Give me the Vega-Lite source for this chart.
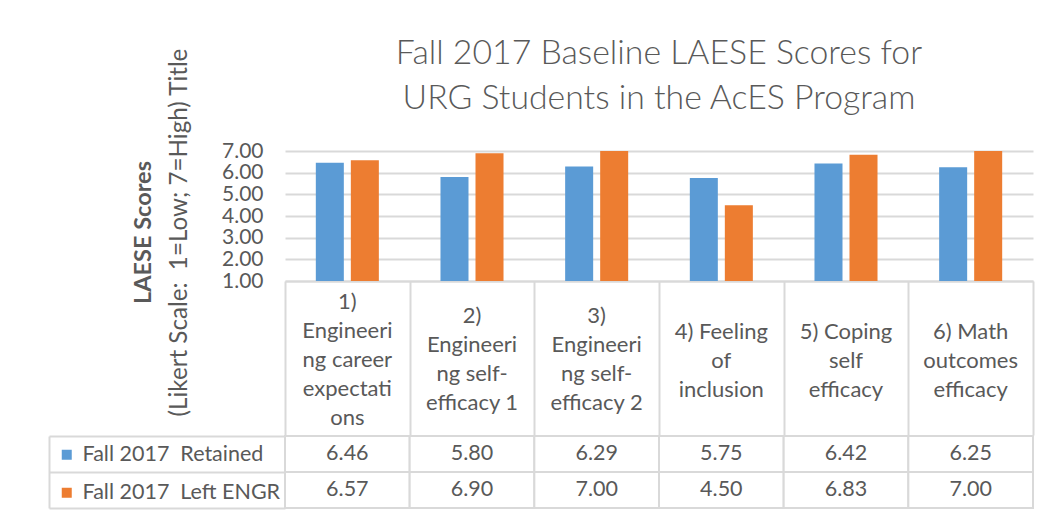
{
  "$schema": "https://vega.github.io/schema/vega-lite/v6.json",
  "background": "white",
  "padding": {"left": 48, "top": 36, "right": 12, "bottom": 8},
  "autosize": {"type": "pad"},
  "config": {
    "font": "Lato",
    "view": {"stroke": null},
    "legend": {
      "orient": "none",
      "legendX": -229,
      "legendY": 293,
      "title": null,
      "symbolType": "square",
      "symbolSize": 100,
      "symbolStrokeWidth": 0,
      "labelFontSize": 21.5,
      "labelColor": "#595959",
      "labelOffset": 5,
      "rowPadding": 15,
      "labelLimit": 0
    }
  },
  "datasets": {
    "scores": [
      {"category": "1)|Engineeri|ng career|expectati|ons", "series": "Fall 2017\u00a0 Retained", "value": 6.46},
      {"category": "2)|Engineeri|ng self-|efficacy 1", "series": "Fall 2017\u00a0 Retained", "value": 5.80},
      {"category": "3)|Engineeri|ng self-|efficacy 2", "series": "Fall 2017\u00a0 Retained", "value": 6.29},
      {"category": "4) Feeling|of|inclusion", "series": "Fall 2017\u00a0 Retained", "value": 5.75},
      {"category": "5) Coping|self|efficacy", "series": "Fall 2017\u00a0 Retained", "value": 6.42},
      {"category": "6) Math|outcomes|efficacy", "series": "Fall 2017\u00a0 Retained", "value": 6.25},
      {"category": "1)|Engineeri|ng career|expectati|ons", "series": "Fall 2017\u00a0 Left ENGR", "value": 6.57},
      {"category": "2)|Engineeri|ng self-|efficacy 1", "series": "Fall 2017\u00a0 Left ENGR", "value": 6.90},
      {"category": "3)|Engineeri|ng self-|efficacy 2", "series": "Fall 2017\u00a0 Left ENGR", "value": 7.00},
      {"category": "4) Feeling|of|inclusion", "series": "Fall 2017\u00a0 Left ENGR", "value": 4.50},
      {"category": "5) Coping|self|efficacy", "series": "Fall 2017\u00a0 Left ENGR", "value": 6.83},
      {"category": "6) Math|outcomes|efficacy", "series": "Fall 2017\u00a0 Left ENGR", "value": 7.00}
    ]
  },
  "data": {"name": "scores"},
  "bounds": "flush",
  "spacing": 155,
  "vconcat": [
    {
      "width": 748,
      "height": 130,
      "title": {
        "text": ["Fall 2017 Baseline LAESE Scores for", "URG Students in the AcES Program"],
        "fontSize": 33.8,
        "fontWeight": 300,
        "color": "#595959",
        "lineHeight": 45,
        "offset": 36,
        "dy": 104,
        "frame": "group",
        "anchor": "middle"
      },
      "layer": [
        {
          "mark": {"type": "bar"},
          "encoding": {
            "x": {
              "field": "category", "type": "nominal", "sort": null,
              "scale": {"paddingInner": 0, "paddingOuter": 0},
              "axis": {
                "title": null,
                "domain": true, "domainColor": "#d9d9d9", "domainWidth": 2,
                "ticks": true, "tickBand": "extent", "tickSize": 154, "tickColor": "#d9d9d9", "tickWidth": 2,
                "grid": false, "labels": false
              }
            },
            "xOffset": {"field": "series", "sort": null, "scale": {"paddingInner": 0.2, "paddingOuter": 0.88}},
            "y": {
              "field": "value", "type": "quantitative",
              "scale": {"domain": [1, 7], "zero": false, "nice": false},
              "axis": {
                "title": "(Likert Scale:\u00a0 1=Low; 7=High) Title",
                "titleFontSize": 24.2, "titleFontWeight": "normal", "titleColor": "#595959", "titlePadding": 30,
                "titleY": 81,
                "values": [1, 2, 3, 4, 5, 6, 7], "format": ".2f",
                "labelFontSize": 21, "labelColor": "#595959", "labelPadding": 22,
                "ticks": false, "tickSize": 0, "domain": false,
                "grid": true, "gridColor": "#d9d9d9", "gridWidth": 2
              }
            },
            "y2": {"datum": 1},
            "color": {
              "field": "series", "type": "nominal", "sort": null,
              "scale": {"range": ["#5b9bd5", "#ed7d31"]}
            }
          }
        },
        {
          "mark": {"type": "rule", "opacity": 0},
          "encoding": {
            "x": {
              "field": "category", "type": "nominal", "sort": null,
              "axis": {
                "orient": "bottom",
                "title": null, "domain": false, "ticks": false, "tickSize": 0, "grid": false,
                "labelExpr": "split(datum.label, '|')",
                "labelFontSize": 22, "labelLineHeight": 29, "labelBaseline": "middle",
                "labelPadding": {
                  "condition": [
                    {"test": "length(split(datum.value, '|')) == 5", "value": 20},
                    {"test": "length(split(datum.value, '|')) == 4", "value": 34}
                  ],
                  "value": 50
                },
                "labelColor": "#595959", "labelAngle": 0, "labelAlign": "center",
                "labelOverlap": false, "labelLimit": 0
              }
            },
            "y": {
              "field": "value", "type": "quantitative",
              "axis": {
                "orient": "left",
                "title": "LAESE Scores",
                "titleFontSize": 23.5, "titleFontWeight": "bold", "titleColor": "#595959", "titlePadding": 130,
                "titleY": 81,
                "labels": false, "ticks": false, "tickSize": 0, "domain": false, "grid": false
              }
            }
          }
        }
      ],
      "resolve": {"axis": {"x": "independent", "y": "independent"}}
    },
    {
      "width": 748,
      "height": 72,
      "layer": [
        {
          "mark": {"type": "rect", "fill": "white", "stroke": "#d9d9d9", "strokeWidth": 2},
          "encoding": {
            "x": {"field": "category", "type": "nominal", "sort": null, "scale": {"paddingInner": 0, "paddingOuter": 0}, "axis": null},
            "y": {
              "field": "series", "type": "nominal", "sort": null,
              "scale": {"paddingInner": 0, "paddingOuter": 0},
              "axis": {
                "title": null, "labels": false, "offset": 236,
                "domain": true, "domainColor": "#d9d9d9", "domainWidth": 2,
                "ticks": true, "tickBand": "extent", "tickSize": -236, "tickColor": "#d9d9d9", "tickWidth": 2,
                "grid": false
              }
            }
          }
        },
        {
          "mark": {"type": "text", "fontSize": 21.5, "color": "#595959"},
          "encoding": {
            "x": {"field": "category", "type": "nominal", "sort": null},
            "y": {"field": "series", "type": "nominal", "sort": null},
            "text": {"field": "value", "type": "quantitative", "format": ".2f"}
          }
        }
      ]
    }
  ]
}
